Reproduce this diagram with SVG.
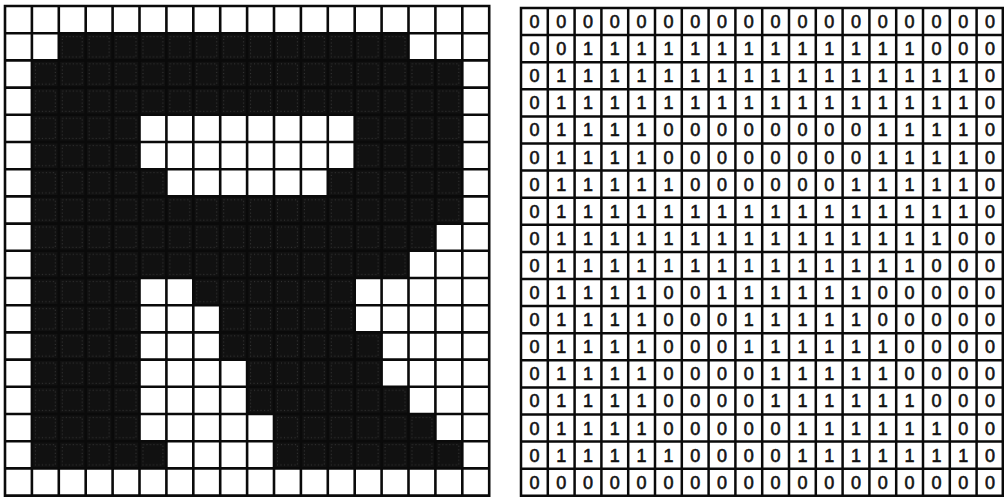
<svg xmlns="http://www.w3.org/2000/svg" width="1004" height="498" viewBox="0 0 1004 498">
<style>
.gl{fill:none;stroke:#0a0a0a;stroke-width:2.6;stroke-linecap:square}
.gr{fill:none;stroke:#0a0a0a;stroke-width:2.5;stroke-linecap:square}
.n{font-family:"Liberation Sans",Arial,sans-serif;font-size:18px;fill:#111;stroke:#111;stroke-width:0.6;text-anchor:middle}
</style>
<defs>
<pattern id="blk" patternUnits="userSpaceOnUse" x="5" y="6" width="26.9" height="27.2">
<rect width="26.9" height="27.2" fill="#111"/>
<rect x="3.5" y="3.5" width="19.9" height="20.2" fill="none" stroke="#a0a0a0" stroke-width="0.8" stroke-dasharray="1 2.5" opacity="0.35"/>
</pattern>
</defs>
<rect width="1004" height="498" fill="#fff"/>
<g id="left-grid">
<path fill="url(#blk)" d="M58.8 33.2h349.7v27.2h-349.7z M31.9 60.4h430.4v54.4h-430.4z M31.9 114.8h107.6v54.4h-107.6z M354.7 114.8h107.6v54.4h-107.6z M31.9 169.2h134.5v27.2h-134.5z M327.8 169.2h134.5v27.2h-134.5z M31.9 196.4h430.4v27.2h-430.4z M31.9 223.6h403.5v27.2h-403.5z M31.9 250.8h376.6v27.2h-376.6z M31.9 278h107.6v163.2h-107.6z M193.3 278h161.4v27.2h-161.4z M220.2 305.2h134.5v27.2h-134.5z M220.2 332.4h161.4v27.2h-161.4z M247.1 359.6h134.5v27.2h-134.5z M247.1 386.8h161.4v27.2h-161.4z M274 414h161.4v27.2h-161.4z M31.9 441.2h134.5v27.2h-134.5z M274 441.2h188.3v27.2h-188.3z"/>
<path class="gl" d="M5 6V495.6M31.9 6V495.6M58.8 6V495.6M85.7 6V495.6M112.6 6V495.6M139.5 6V495.6M166.4 6V495.6M193.3 6V495.6M220.2 6V495.6M247.1 6V495.6M274 6V495.6M300.9 6V495.6M327.8 6V495.6M354.7 6V495.6M381.6 6V495.6M408.5 6V495.6M435.4 6V495.6M462.3 6V495.6M489.2 6V495.6 M5 6H489.2M5 33.2H489.2M5 60.4H489.2M5 87.6H489.2M5 114.8H489.2M5 142H489.2M5 169.2H489.2M5 196.4H489.2M5 223.6H489.2M5 250.8H489.2M5 278H489.2M5 305.2H489.2M5 332.4H489.2M5 359.6H489.2M5 386.8H489.2M5 414H489.2M5 441.2H489.2M5 468.4H489.2M5 495.6H489.2"/>
</g>
<g id="right-grid">
<path class="gr" d="M521 8V495.8M547.8 8V495.8M574.6 8V495.8M601.4 8V495.8M628.2 8V495.8M655 8V495.8M681.8 8V495.8M708.6 8V495.8M735.4 8V495.8M762.2 8V495.8M789 8V495.8M815.8 8V495.8M842.6 8V495.8M869.4 8V495.8M896.2 8V495.8M923 8V495.8M949.8 8V495.8M976.6 8V495.8M1002.8 8V495.8 M521 8H1002.8M521 35.1H1002.8M521 62.2H1002.8M521 89.3H1002.8M521 116.4H1002.8M521 143.5H1002.8M521 170.6H1002.8M521 197.7H1002.8M521 224.8H1002.8M521 251.9H1002.8M521 279H1002.8M521 306.1H1002.8M521 333.2H1002.8M521 360.3H1002.8M521 387.4H1002.8M521 414.5H1002.8M521 441.6H1002.8M521 468.7H1002.8M521 495.8H1002.8"/>
<g class="n" transform="translate(0,28)"><text x="534.4">0</text><text x="561.2">0</text><text x="588">0</text><text x="614.8">0</text><text x="641.6">0</text><text x="668.4">0</text><text x="695.2">0</text><text x="722">0</text><text x="748.8">0</text><text x="775.6">0</text><text x="802.4">0</text><text x="829.2">0</text><text x="856">0</text><text x="882.8">0</text><text x="909.6">0</text><text x="936.4">0</text><text x="963.2">0</text><text x="990">0</text></g>
<g class="n" transform="translate(0,55.1)"><text x="534.4">0</text><text x="561.2">0</text><text x="588">1</text><text x="614.8">1</text><text x="641.6">1</text><text x="668.4">1</text><text x="695.2">1</text><text x="722">1</text><text x="748.8">1</text><text x="775.6">1</text><text x="802.4">1</text><text x="829.2">1</text><text x="856">1</text><text x="882.8">1</text><text x="909.6">1</text><text x="936.4">0</text><text x="963.2">0</text><text x="990">0</text></g>
<g class="n" transform="translate(0,82.2)"><text x="534.4">0</text><text x="561.2">1</text><text x="588">1</text><text x="614.8">1</text><text x="641.6">1</text><text x="668.4">1</text><text x="695.2">1</text><text x="722">1</text><text x="748.8">1</text><text x="775.6">1</text><text x="802.4">1</text><text x="829.2">1</text><text x="856">1</text><text x="882.8">1</text><text x="909.6">1</text><text x="936.4">1</text><text x="963.2">1</text><text x="990">0</text></g>
<g class="n" transform="translate(0,109.3)"><text x="534.4">0</text><text x="561.2">1</text><text x="588">1</text><text x="614.8">1</text><text x="641.6">1</text><text x="668.4">1</text><text x="695.2">1</text><text x="722">1</text><text x="748.8">1</text><text x="775.6">1</text><text x="802.4">1</text><text x="829.2">1</text><text x="856">1</text><text x="882.8">1</text><text x="909.6">1</text><text x="936.4">1</text><text x="963.2">1</text><text x="990">0</text></g>
<g class="n" transform="translate(0,136.4)"><text x="534.4">0</text><text x="561.2">1</text><text x="588">1</text><text x="614.8">1</text><text x="641.6">1</text><text x="668.4">0</text><text x="695.2">0</text><text x="722">0</text><text x="748.8">0</text><text x="775.6">0</text><text x="802.4">0</text><text x="829.2">0</text><text x="856">0</text><text x="882.8">1</text><text x="909.6">1</text><text x="936.4">1</text><text x="963.2">1</text><text x="990">0</text></g>
<g class="n" transform="translate(0,163.5)"><text x="534.4">0</text><text x="561.2">1</text><text x="588">1</text><text x="614.8">1</text><text x="641.6">1</text><text x="668.4">0</text><text x="695.2">0</text><text x="722">0</text><text x="748.8">0</text><text x="775.6">0</text><text x="802.4">0</text><text x="829.2">0</text><text x="856">0</text><text x="882.8">1</text><text x="909.6">1</text><text x="936.4">1</text><text x="963.2">1</text><text x="990">0</text></g>
<g class="n" transform="translate(0,190.6)"><text x="534.4">0</text><text x="561.2">1</text><text x="588">1</text><text x="614.8">1</text><text x="641.6">1</text><text x="668.4">1</text><text x="695.2">0</text><text x="722">0</text><text x="748.8">0</text><text x="775.6">0</text><text x="802.4">0</text><text x="829.2">0</text><text x="856">1</text><text x="882.8">1</text><text x="909.6">1</text><text x="936.4">1</text><text x="963.2">1</text><text x="990">0</text></g>
<g class="n" transform="translate(0,217.7)"><text x="534.4">0</text><text x="561.2">1</text><text x="588">1</text><text x="614.8">1</text><text x="641.6">1</text><text x="668.4">1</text><text x="695.2">1</text><text x="722">1</text><text x="748.8">1</text><text x="775.6">1</text><text x="802.4">1</text><text x="829.2">1</text><text x="856">1</text><text x="882.8">1</text><text x="909.6">1</text><text x="936.4">1</text><text x="963.2">1</text><text x="990">0</text></g>
<g class="n" transform="translate(0,244.8)"><text x="534.4">0</text><text x="561.2">1</text><text x="588">1</text><text x="614.8">1</text><text x="641.6">1</text><text x="668.4">1</text><text x="695.2">1</text><text x="722">1</text><text x="748.8">1</text><text x="775.6">1</text><text x="802.4">1</text><text x="829.2">1</text><text x="856">1</text><text x="882.8">1</text><text x="909.6">1</text><text x="936.4">1</text><text x="963.2">0</text><text x="990">0</text></g>
<g class="n" transform="translate(0,271.9)"><text x="534.4">0</text><text x="561.2">1</text><text x="588">1</text><text x="614.8">1</text><text x="641.6">1</text><text x="668.4">1</text><text x="695.2">1</text><text x="722">1</text><text x="748.8">1</text><text x="775.6">1</text><text x="802.4">1</text><text x="829.2">1</text><text x="856">1</text><text x="882.8">1</text><text x="909.6">1</text><text x="936.4">0</text><text x="963.2">0</text><text x="990">0</text></g>
<g class="n" transform="translate(0,299)"><text x="534.4">0</text><text x="561.2">1</text><text x="588">1</text><text x="614.8">1</text><text x="641.6">1</text><text x="668.4">0</text><text x="695.2">0</text><text x="722">1</text><text x="748.8">1</text><text x="775.6">1</text><text x="802.4">1</text><text x="829.2">1</text><text x="856">1</text><text x="882.8">0</text><text x="909.6">0</text><text x="936.4">0</text><text x="963.2">0</text><text x="990">0</text></g>
<g class="n" transform="translate(0,326.1)"><text x="534.4">0</text><text x="561.2">1</text><text x="588">1</text><text x="614.8">1</text><text x="641.6">1</text><text x="668.4">0</text><text x="695.2">0</text><text x="722">0</text><text x="748.8">1</text><text x="775.6">1</text><text x="802.4">1</text><text x="829.2">1</text><text x="856">1</text><text x="882.8">0</text><text x="909.6">0</text><text x="936.4">0</text><text x="963.2">0</text><text x="990">0</text></g>
<g class="n" transform="translate(0,353.2)"><text x="534.4">0</text><text x="561.2">1</text><text x="588">1</text><text x="614.8">1</text><text x="641.6">1</text><text x="668.4">0</text><text x="695.2">0</text><text x="722">0</text><text x="748.8">1</text><text x="775.6">1</text><text x="802.4">1</text><text x="829.2">1</text><text x="856">1</text><text x="882.8">1</text><text x="909.6">0</text><text x="936.4">0</text><text x="963.2">0</text><text x="990">0</text></g>
<g class="n" transform="translate(0,380.3)"><text x="534.4">0</text><text x="561.2">1</text><text x="588">1</text><text x="614.8">1</text><text x="641.6">1</text><text x="668.4">0</text><text x="695.2">0</text><text x="722">0</text><text x="748.8">0</text><text x="775.6">1</text><text x="802.4">1</text><text x="829.2">1</text><text x="856">1</text><text x="882.8">1</text><text x="909.6">0</text><text x="936.4">0</text><text x="963.2">0</text><text x="990">0</text></g>
<g class="n" transform="translate(0,407.4)"><text x="534.4">0</text><text x="561.2">1</text><text x="588">1</text><text x="614.8">1</text><text x="641.6">1</text><text x="668.4">0</text><text x="695.2">0</text><text x="722">0</text><text x="748.8">0</text><text x="775.6">1</text><text x="802.4">1</text><text x="829.2">1</text><text x="856">1</text><text x="882.8">1</text><text x="909.6">1</text><text x="936.4">0</text><text x="963.2">0</text><text x="990">0</text></g>
<g class="n" transform="translate(0,434.5)"><text x="534.4">0</text><text x="561.2">1</text><text x="588">1</text><text x="614.8">1</text><text x="641.6">1</text><text x="668.4">0</text><text x="695.2">0</text><text x="722">0</text><text x="748.8">0</text><text x="775.6">0</text><text x="802.4">1</text><text x="829.2">1</text><text x="856">1</text><text x="882.8">1</text><text x="909.6">1</text><text x="936.4">1</text><text x="963.2">0</text><text x="990">0</text></g>
<g class="n" transform="translate(0,461.6)"><text x="534.4">0</text><text x="561.2">1</text><text x="588">1</text><text x="614.8">1</text><text x="641.6">1</text><text x="668.4">1</text><text x="695.2">0</text><text x="722">0</text><text x="748.8">0</text><text x="775.6">0</text><text x="802.4">1</text><text x="829.2">1</text><text x="856">1</text><text x="882.8">1</text><text x="909.6">1</text><text x="936.4">1</text><text x="963.2">1</text><text x="990">0</text></g>
<g class="n" transform="translate(0,488.7)"><text x="534.4">0</text><text x="561.2">0</text><text x="588">0</text><text x="614.8">0</text><text x="641.6">0</text><text x="668.4">0</text><text x="695.2">0</text><text x="722">0</text><text x="748.8">0</text><text x="775.6">0</text><text x="802.4">0</text><text x="829.2">0</text><text x="856">0</text><text x="882.8">0</text><text x="909.6">0</text><text x="936.4">0</text><text x="963.2">0</text><text x="990">0</text></g>
</g>
</svg>
